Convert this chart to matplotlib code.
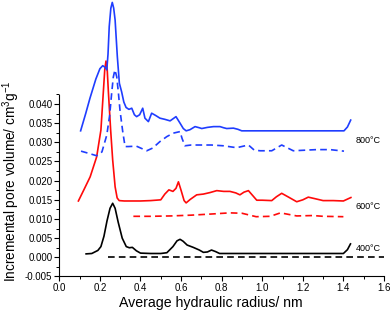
import matplotlib
matplotlib.use("Agg")
import matplotlib.pyplot as plt
from matplotlib.ticker import MultipleLocator

plt.rcParams['font.family'] = ['Liberation Sans', 'DejaVu Sans']
plt.rcParams['mathtext.fontset'] = 'custom'
plt.rcParams['mathtext.rm'] = 'Liberation Sans'
plt.rcParams['mathtext.it'] = 'Liberation Sans'
plt.rcParams['mathtext.default'] = 'regular'

# 400 C
x400 = [0.132, 0.16, 0.19, 0.205, 0.22, 0.235, 0.25, 0.263, 0.275, 0.29, 0.31, 0.33, 0.345, 0.36,
        0.38, 0.40, 0.45, 0.50, 0.53, 0.56, 0.58, 0.595, 0.61, 0.63, 0.66, 0.69, 0.71, 0.73,
        0.75, 0.77, 0.79, 0.85, 1.0, 1.2, 1.40, 1.42, 1.435]
y400 = [0.0009, 0.0010, 0.0018, 0.0028, 0.0055, 0.0095, 0.0128, 0.0141, 0.0128, 0.0092, 0.0050,
        0.0028, 0.0025, 0.0026, 0.0017, 0.0011, 0.0010, 0.0010, 0.0012, 0.0028, 0.0043, 0.0047,
        0.0042, 0.0032, 0.0026, 0.0019, 0.0013, 0.0014, 0.0019, 0.0015, 0.0010, 0.0010, 0.0010,
        0.0010, 0.0010, 0.0020, 0.0035]
x400d = [0.24, 1.60]
y400d = [0.0, 0.0]

# 600 C
x600 = [0.094, 0.12, 0.152, 0.184, 0.205, 0.218, 0.224, 0.230, 0.236, 0.242, 0.253, 0.263, 0.275,
        0.285, 0.295, 0.32, 0.35, 0.40, 0.45, 0.50, 0.52, 0.54, 0.56, 0.575, 0.587, 0.60, 0.615,
        0.625, 0.645, 0.677, 0.71, 0.743, 0.776, 0.81, 0.841, 0.87, 0.89, 0.91, 0.932, 0.955,
        0.973, 1.0, 1.047, 1.07, 1.096, 1.13, 1.17, 1.20, 1.227, 1.26, 1.30, 1.35, 1.40, 1.437]
y600 = [0.0147, 0.0175, 0.0210, 0.0262, 0.0332, 0.0440, 0.0490, 0.0512, 0.0490, 0.0430, 0.0332,
        0.0254, 0.0184, 0.0155, 0.0148, 0.0147, 0.0147, 0.0147, 0.0148, 0.0150, 0.0165, 0.0176,
        0.0172, 0.0180, 0.0197, 0.0175, 0.0148, 0.0142, 0.0151, 0.0163, 0.0165, 0.0169, 0.0174,
        0.0172, 0.0172, 0.0168, 0.0163, 0.0170, 0.0174, 0.0160, 0.0149, 0.0149, 0.0148, 0.0158,
        0.0167, 0.0157, 0.0145, 0.0150, 0.0157, 0.0153, 0.0148, 0.0148, 0.0147, 0.0156]
x600d = [0.365, 0.45, 0.55, 0.65, 0.75, 0.84, 0.90, 0.97, 1.04, 1.09, 1.17, 1.25, 1.30, 1.40]
y600d = [0.0107, 0.0107, 0.0108, 0.0110, 0.0113, 0.0116, 0.0115, 0.0106, 0.0107, 0.0116, 0.0108,
         0.0109, 0.0107, 0.0106]

# 800 C
x800 = [0.105, 0.13, 0.151, 0.18, 0.20, 0.214, 0.225, 0.234, 0.240, 0.246, 0.254, 0.261, 0.268,
        0.275, 0.286, 0.296, 0.307, 0.318, 0.329, 0.343, 0.357, 0.37, 0.381, 0.396, 0.411, 0.422,
        0.439, 0.455, 0.475, 0.496, 0.52, 0.546, 0.575, 0.595, 0.611, 0.625, 0.644, 0.669, 0.69,
        0.702, 0.73, 0.76, 0.792, 0.81, 0.825, 0.858, 0.88, 0.899, 1.0, 1.2, 1.403, 1.42, 1.436]
y800 = [0.0330, 0.0375, 0.0415, 0.0465, 0.0492, 0.0500, 0.0496, 0.0489, 0.0530, 0.0602, 0.0650,
        0.0665, 0.0650, 0.0619, 0.0523, 0.0454, 0.0432, 0.0405, 0.0391, 0.0386, 0.0389, 0.0372,
        0.0367, 0.0372, 0.0389, 0.0363, 0.0354, 0.0376, 0.0370, 0.0363, 0.0360, 0.0356, 0.0367,
        0.0350, 0.0336, 0.0330, 0.0333, 0.0341, 0.0338, 0.0336, 0.0339, 0.0341, 0.0341, 0.0338,
        0.0336, 0.0337, 0.0334, 0.0330, 0.0330, 0.0330, 0.0330, 0.0340, 0.0358]
x800d = [0.107, 0.14, 0.184, 0.21, 0.234, 0.248, 0.258, 0.266, 0.274, 0.283, 0.291, 0.299, 0.312,
         0.324, 0.34, 0.38, 0.431, 0.46, 0.496, 0.53, 0.562, 0.595, 0.605, 0.619, 0.65, 0.693,
         0.75, 0.808, 0.874, 0.932, 0.96, 0.989, 1.047, 1.096, 1.153, 1.268, 1.334, 1.403]
y800d = [0.0277, 0.0272, 0.0265, 0.0275, 0.0319, 0.0370, 0.0428, 0.0470, 0.0489, 0.0471, 0.0430,
         0.0384, 0.0330, 0.0289, 0.0289, 0.0290, 0.0278, 0.0285, 0.0302, 0.0315, 0.0324, 0.0328,
         0.0310, 0.0291, 0.0293, 0.0293, 0.0293, 0.0291, 0.0286, 0.0293, 0.0280, 0.0278, 0.0278,
         0.0293, 0.0278, 0.0281, 0.0281, 0.0277]

labels = ["400°C", "600°C", "800°C"]
label_x = [1.462, 1.462, 1.462]
label_y = [0.0024, 0.0132, 0.0306]

xticks = [0.0, 0.2, 0.4, 0.6, 0.8, 1.0, 1.2, 1.4, 1.6]
yticks = [-0.005, 0.0, 0.005, 0.010, 0.015, 0.020, 0.025, 0.030, 0.035, 0.040]

blue = '#1f3dff'
red = '#ff0a0a'
black = '#000000'
lw = 1.2
dash = (4, 2.5)

fig = plt.figure(figsize=(3.91, 3.12), dpi=100)
ax = fig.add_axes([0.1517, 0.1138, 0.8303, 0.8846])

ax.plot(x400, y400, color=black, lw=lw)
ax.plot(x400d, y400d, color=black, lw=lw, dashes=dash)
ax.plot(x600, y600, color=red, lw=lw)
ax.plot(x600d, y600d, color=red, lw=lw, dashes=dash)
ax.plot(x800, y800, color=blue, lw=lw)
ax.plot(x800d, y800d, color=blue, lw=lw, dashes=dash)

for t, lx, ly in zip(labels, label_x, label_y):
    ax.text(lx, ly, t, fontsize=6.5, va='center', ha='left')

ax.set_xlim(0, 1.6)
ax.set_ylim(-0.005, 0.067)
ax.spines['top'].set_visible(False)
ax.spines['right'].set_visible(False)
ax.spines['left'].set_bounds(-0.005, 0.0423)
for s in ['left', 'bottom']:
    ax.spines[s].set_linewidth(0.8)

ax.set_xticks(xticks)
ax.set_xticklabels([f"{v:.1f}" for v in xticks])
ax.set_yticks(yticks)
ax.set_yticklabels([f"{v:.3f}" for v in yticks])
ax.xaxis.set_minor_locator(MultipleLocator(0.1))
ax.set_yticks([-0.0025 + 0.005 * i for i in range(10)], minor=True)
ax.tick_params(which='major', direction='out', length=3.5, width=0.8, labelsize=7, pad=1.5)
ax.tick_params(which='minor', direction='out', length=2, width=0.7)

ax.set_xlabel("Average hydraulic radius/ nm", fontsize=10.2)
ax.set_ylabel("Incremental pore volume/ cm$^3$g$^{-1}$", fontsize=9.8)
ax.xaxis.set_label_coords(0.466, -0.070)
ax.yaxis.set_label_coords(-0.115, 0.346)

fig.savefig("out.png", dpi=100)
